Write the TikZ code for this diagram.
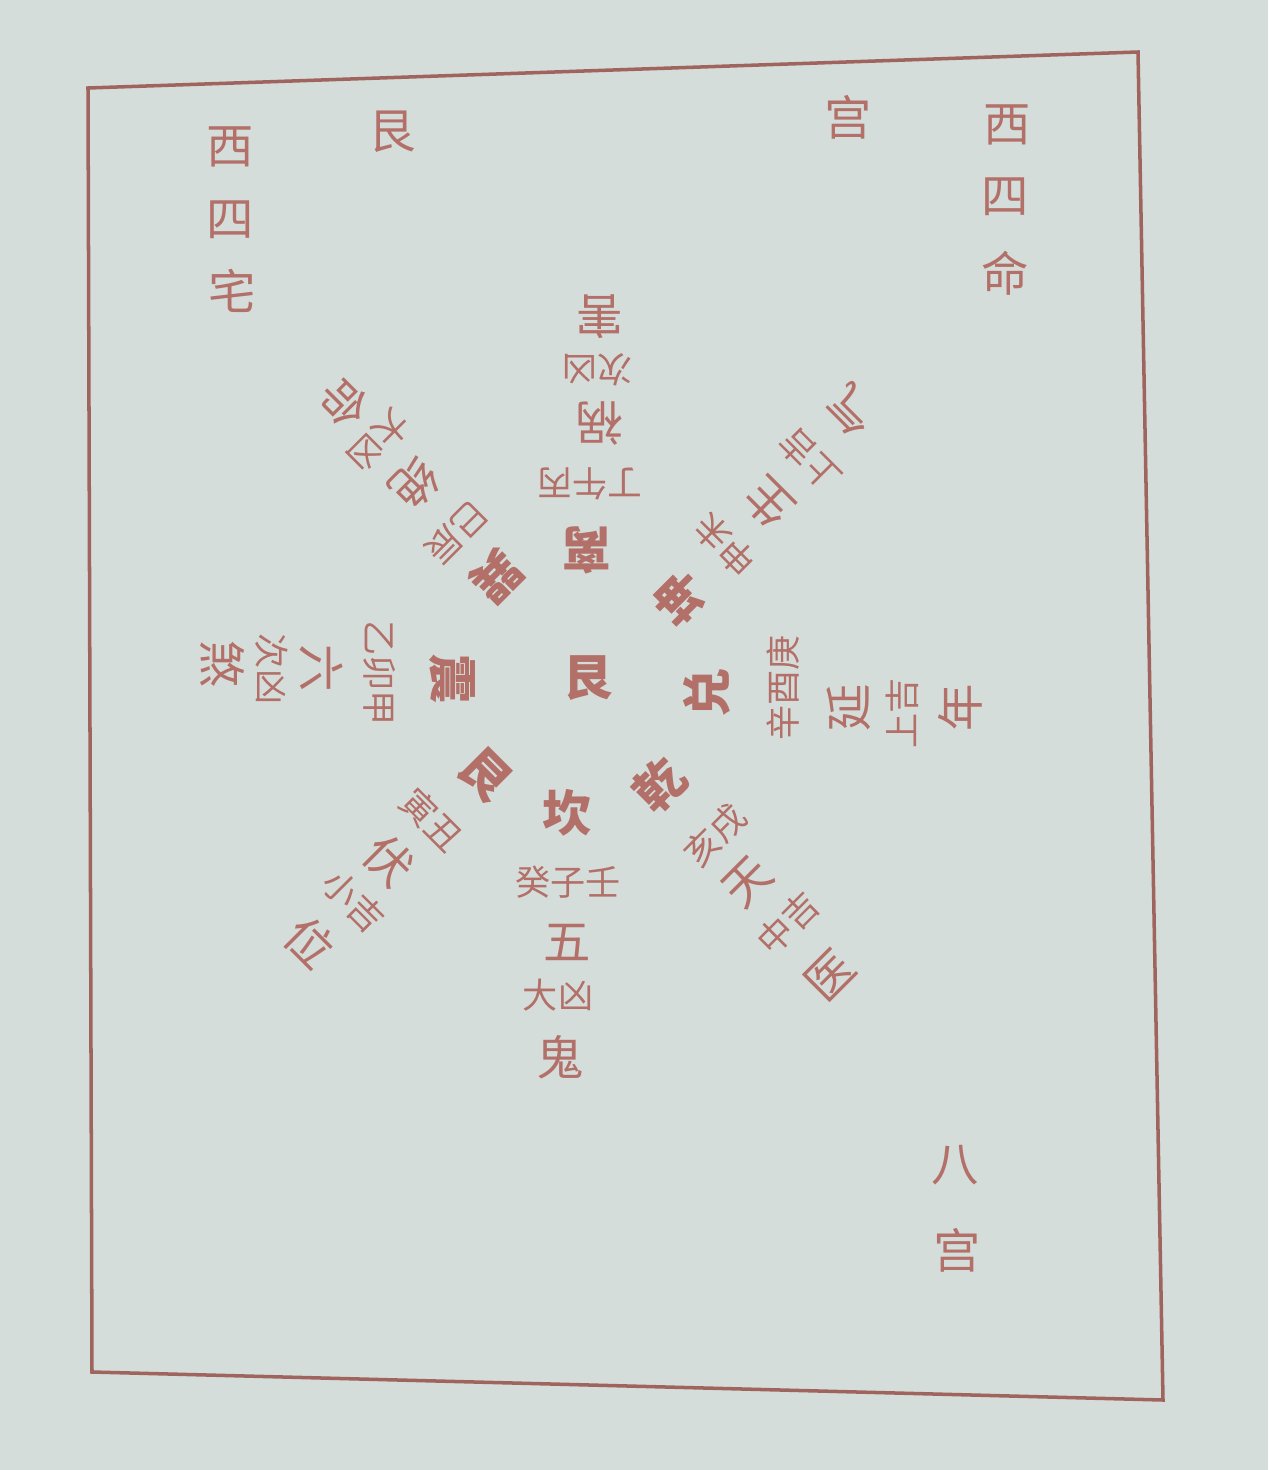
\documentclass[tikz,border=0pt]{standalone}
\usepackage{fontspec}
\newfontfamily\cjk{Noto Sans CJK SC}
\usetikzlibrary{positioning}
\definecolor{ink}{RGB}{178,112,104}
\definecolor{rim}{RGB}{160,100,94}
\definecolor{paper}{RGB}{213,221,219}
\tikzset{
	gua/.style={text=ink, inner sep=0pt, font=\cjk\bfseries\fontsize{28}{28}\selectfont},
	xing/.style={text=ink, inner sep=0pt, font=\cjk\fontsize{27}{27}\selectfont},
	zhi/.style={text=ink, inner sep=0pt, font=\cjk\fontsize{20}{20}\selectfont}
}
\begin{document}
\begin{tikzpicture}
[x=0.02cm, y=0.02cm, thick]
\def\lw{2pt}
\fill[paper] (0,0) rectangle (1268,-1470);
\draw[rim, line width=\lw] (88,-88) -- (1138,-52) -- (1163,-1400) -- (92,-1372) -- cycle;
\node[gua] (ctr) at (588,-678) {艮};
\node[gua, rotate=180] (li) at (587,-550) {离};
\node[zhi, rotate=180] (liz) at (590,-484) {丁午丙};
\node[xing, rotate=180] (lia) at (600,-423) {祸};
\node[zhi, rotate=180] (lib) at (597,-370) {次凶};
\node[xing, rotate=180] (lic) at (600,-317) {害};
\node[gua, rotate=135] (kun) at (680,-598) {坤};
\node[zhi, rotate=135] (kunz) at (725,-545) {申未};
\node[xing, rotate=135] (kuna) at (768,-503) {生};
\node[zhi, rotate=135] (kunb) at (810,-460) {上吉};
\node[xing, rotate=135] (kunc) at (852,-411) {气};
\node[gua, rotate=90] (dui) at (707,-693) {兑};
\node[zhi, rotate=90] (duiz) at (783,-688) {辛酉庚};
\node[xing, rotate=90] (duia) at (849,-708) {延};
\node[zhi, rotate=90] (duib) at (902,-713) {上吉};
\node[xing, rotate=90] (duic) at (960,-708) {年};
\node[gua, rotate=45] (qian) at (660,-785) {乾};
\node[zhi, rotate=45] (qianz) at (715,-835) {亥戌};
\node[xing, rotate=45] (qiana) at (748,-882) {天};
\node[zhi, rotate=45] (qianb) at (788,-923) {中吉};
\node[xing, rotate=45] (qianc) at (830,-975) {医};
\node[gua] (kan) at (567,-813) {坎};
\node[zhi] (kanz) at (568,-882) {癸子壬};
\node[xing] (kana) at (567,-942) {五};
\node[zhi] (kanb) at (558,-995) {大凶};
\node[xing] (kanc) at (560,-1057) {鬼};
\node[gua, rotate=-45] (gen) at (485,-775) {艮};
\node[zhi, rotate=-45] (genz) at (432,-820) {寅丑};
\node[xing, rotate=-45] (gena) at (389,-861) {伏};
\node[zhi, rotate=-45] (genb) at (354,-901) {小吉};
\node[xing, rotate=-45] (genc) at (310,-942) {位};
\node[gua, rotate=-90] (zhen) at (452,-679) {震};
\node[zhi, rotate=-90] (zhenz) at (380,-673) {乙卯甲};
\node[xing, rotate=-90] (zhena) at (322,-668) {六};
\node[zhi, rotate=-90] (zhenb) at (272,-669) {次凶};
\node[xing, rotate=-90] (zhenc) at (222,-664) {煞};
\node[gua, rotate=-135] (xun) at (497,-577) {巽};
\node[zhi, rotate=-135] (xunz) at (456,-532) {巳辰};
\node[xing, rotate=-135] (xuna) at (415,-484) {绝};
\node[zhi, rotate=-135] (xunb) at (379,-441) {大凶};
\node[xing, rotate=-135] (xunc) at (345,-403) {命};
\node[xing] (ming1) at (1007,-125) {西};
\node[xing] (ming2) at (1005,-197) {四};
\node[xing] (ming3) at (1005,-273) {命};
\node[xing] (gong1) at (848,-117) {宫};
\node[xing] (gengong) at (392,-132) {艮};
\node[xing] (zhai1) at (230,-147) {西};
\node[xing] (zhai2) at (230,-220) {四};
\node[xing] (zhai3) at (232,-291) {宅};
\node[xing] (ba) at (955,-1165) {八};
\node[xing] (gong2) at (957,-1250) {宫};
\end{tikzpicture}
\end{document}
